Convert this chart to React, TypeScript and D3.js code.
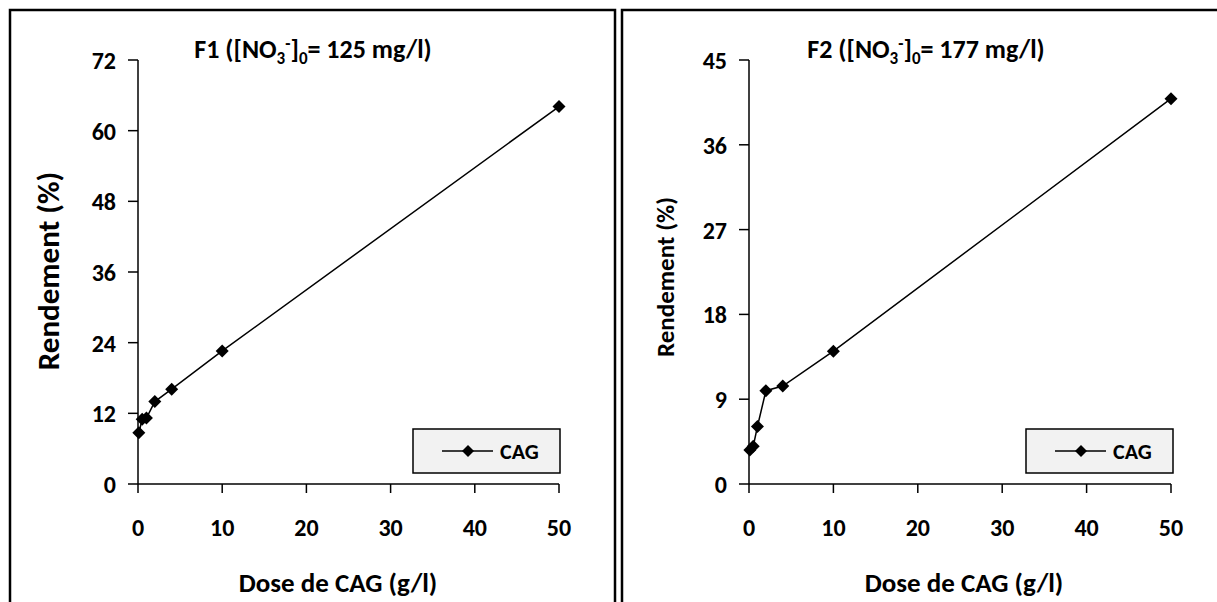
import React from "react";
import * as d3 from "d3";

const doses = [0.1, 0.5, 1, 2, 4, 10, 50];
const rendementF1 = [8.7, 11.0, 11.2, 14.0, 16.1, 22.6, 64.1];
const rendementF2 = [3.6, 4.0, 6.1, 9.9, 10.4, 14.1, 40.9];
const xTicks = [0, 10, 20, 30, 40, 50];
const yTicksF1 = [0, 12, 24, 36, 48, 60, 72];
const yTicksF2 = [0, 9, 18, 27, 36, 45];
const seriesName = "CAG";
const xTitle = "Dose de CAG (g/l)";
const yTitle = "Rendement (%)";

const FONT = "Carlito, Calibri, Lato, sans-serif";

type PanelProps = {
  frameX: number;
  frameW: number;
  x0: number;
  x1: number;
  yMax: number;
  yTicks: number[];
  values: number[];
  label: string;
  conc: string;
  titleX: number;
  xTitleX: number;
  yTitleX: number;
  yTitleY: number;
  yTitleSize: number;
  legendX: number;
};

function diamond(cx: number, cy: number, r: number) {
  return `M${cx},${cy - r}L${cx + r},${cy}L${cx},${cy + r}L${cx - r},${cy}Z`;
}

function Panel(p: PanelProps) {
  const yTop = 60;
  const yBot = 484;
  const x = d3.scaleLinear().domain([0, 50]).range([p.x0, p.x1]);
  const y = d3.scaleLinear().domain([0, p.yMax]).range([yBot, yTop]);
  const pts = doses.map((d, i) => [x(d), y(p.values[i])] as [number, number]);
  const line = d3.line()(pts) || "";
  const lg = { x: p.legendX, y: 429, w: 147, h: 44 };
  return (
    <g>
      <rect x={p.frameX} y={10} width={p.frameW} height={640} fill="#fff" stroke="#000" strokeWidth={2.5} />
      {/* title */}
      <text x={p.titleX} y={58} textAnchor="middle" fontFamily={FONT} fontWeight="bold" fontSize={26} fill="#000">
        {p.label + " ([NO"}
        <tspan fontSize={17} dy={6}>3</tspan>
        <tspan fontSize={17} dy={-15}>-</tspan>
        <tspan dy={9}>]</tspan>
        <tspan fontSize={17} dy={6}>0</tspan>
        <tspan dy={-6}>{"= " + p.conc + " mg/l)"}</tspan>
      </text>
      {/* y axis */}
      <line x1={p.x0} x2={p.x0} y1={yTop} y2={yBot} stroke="#000" strokeWidth={1.5} />
      {p.yTicks.map((t) => (
        <g key={"y" + t}>
          <line x1={p.x0 - 10} x2={p.x0} y1={y(t)} y2={y(t)} stroke="#000" strokeWidth={1.5} />
          <text x={p.x0 - 22} y={y(t) + 9} textAnchor="end" fontFamily={FONT} fontWeight="bold" fontSize={24} fill="#000">
            {t}
          </text>
        </g>
      ))}
      {/* x axis */}
      <line x1={p.x0} x2={p.x1} y1={yBot} y2={yBot} stroke="#000" strokeWidth={1.5} />
      {xTicks.map((t) => (
        <g key={"x" + t}>
          <line x1={x(t)} x2={x(t)} y1={yBot} y2={yBot + 9} stroke="#000" strokeWidth={1.5} />
          <text x={x(t)} y={536} textAnchor="middle" fontFamily={FONT} fontWeight="bold" fontSize={24} fill="#000">
            {t}
          </text>
        </g>
      ))}
      <text x={p.xTitleX} y={592} textAnchor="middle" fontFamily={FONT} fontWeight="bold" fontSize={27} fill="#000">
        {xTitle}
      </text>
      <text
        transform={`translate(${p.yTitleX},${p.yTitleY}) rotate(-90)`}
        textAnchor="middle"
        fontFamily={FONT}
        fontWeight="bold"
        fontSize={p.yTitleSize}
        fill="#000"
      >
        {yTitle}
      </text>
      {/* series */}
      <path d={line} fill="none" stroke="#000" strokeWidth={1.5} />
      {pts.map((pt, i) => (
        <path key={i} d={diamond(pt[0], pt[1], 6.5)} fill="#000" />
      ))}
      {/* legend */}
      <rect x={lg.x} y={lg.y} width={lg.w} height={lg.h} fill="#f2f2f2" stroke="#000" strokeWidth={1.5} />
      <line x1={lg.x + 29} x2={lg.x + 80} y1={lg.y + 22} y2={lg.y + 22} stroke="#000" strokeWidth={1.5} />
      <path d={diamond(lg.x + 55, lg.y + 22, 6)} fill="#000" />
      <text x={lg.x + 87} y={lg.y + 30} fontFamily={FONT} fontWeight="bold" fontSize={22} fill="#000">
        {seriesName}
      </text>
    </g>
  );
}

export default function App() {
  return (
    <svg width={1217} height={602} style={{ position: "absolute", left: 0, top: 0, background: "#fff" }}>
      <rect x={0} y={0} width={1217} height={602} fill="#fff" />
      <Panel
        frameX={10}
        frameW={605}
        x0={138}
        x1={559}
        yMax={72}
        yTicks={yTicksF1}
        values={rendementF1}
        label="F1"
        conc="125"
        titleX={313}
        xTitleX={338}
        yTitleX={59}
        yTitleY={271}
        yTitleSize={31}
        legendX={413}
      />
      <Panel
        frameX={622}
        frameW={620}
        x0={749}
        x1={1171}
        yMax={45}
        yTicks={yTicksF2}
        values={rendementF2}
        label="F2"
        conc="177"
        titleX={926}
        xTitleX={964}
        yTitleX={674}
        yTitleY={277}
        yTitleSize={25}
        legendX={1026}
      />
    </svg>
  );
}
